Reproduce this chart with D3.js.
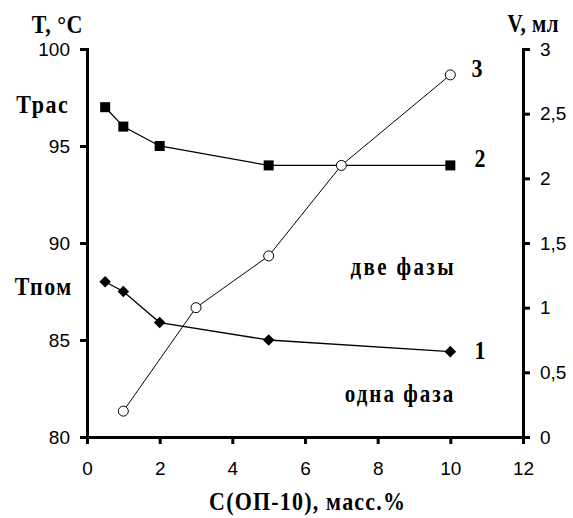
<!DOCTYPE html>
<html>
<head>
<meta charset="utf-8">
<script src="https://cdn.jsdelivr.net/npm/d3@7"></script>
<style>
    body { margin: 0; background: #fff; }
    .axis path, .axis line { stroke: #000; stroke-width: 3; }
    .axis text { font-family: 'Liberation Sans', Arial, sans-serif; font-size: 19px; fill: #000; }
    .lbl { font-family: 'Liberation Serif', 'Times New Roman', serif; font-weight: bold; fill: #000; }
</style>
</head>
<body>
<svg id="chart" width="573" height="518"></svg>
<script>
// концентрация ОП-10, масс.%
let concRas = [0.5, 1, 2, 5, 10]
let tRas = [97, 96, 95, 94, 94]
let concPom = [0.5, 1, 2, 5, 10]
let tPom = [88, 87.5, 85.9, 85, 84.4]
let concV = [1, 3, 5, 7, 10]
let vol = [0.2, 1.0, 1.4, 2.1, 2.8]

let xTicks = [0, 2, 4, 6, 8, 10, 12]
let tTicks = [80, 85, 90, 95, 100]
let vTicks = [0, 0.5, 1, 1.5, 2, 2.5, 3]

function main() {
    let svg = d3.select('#chart'),
        margin = {top: 49, bottom: 81, left: 87, right: 50},
        width = svg.attr('width') - margin.left - margin.right,
        height = svg.attr('height') - margin.top - margin.bottom

    let xScale = d3.scaleLinear().domain([0, 12]).range([margin.left, margin.left + width]),
        tScale = d3.scaleLinear().domain([80, 100]).range([margin.top + height, margin.top]),
        vScale = d3.scaleLinear().domain([0, 3]).range([margin.top + height, margin.top])

    let comma = d => String(d).replace('.', ',')

    svg.append('g')
        .attr('class', 'axis')
        .attr('transform', 'translate(0, ' + (margin.top + height) + ')')
        .call(d3.axisBottom(xScale).tickValues(xTicks).tickSize(7).tickSizeOuter(0).tickPadding(18))

    svg.append('g')
        .attr('class', 'axis')
        .attr('transform', 'translate(' + margin.left + ', 0)')
        .call(d3.axisLeft(tScale).tickValues(tTicks).tickSize(7).tickSizeOuter(0).tickPadding(10))

    svg.append('g')
        .attr('class', 'axis')
        .attr('transform', 'translate(' + (margin.left + width) + ', 0)')
        .call(d3.axisRight(vScale).tickValues(vTicks).tickSize(7).tickSizeOuter(0).tickPadding(10).tickFormat(comma))

    svg.selectAll('.axis path').attr('stroke-linecap', 'square')

    let lineT = d3.line().x(d => xScale(d[0])).y(d => tScale(d[1]))
    let lineV = d3.line().x(d => xScale(d[0])).y(d => vScale(d[1]))

    let ras = concRas.map((c, i) => [c, tRas[i]])
    let pom = concPom.map((c, i) => [c, tPom[i]])
    let vv = concV.map((c, i) => [c, vol[i]])

    svg.append('path').datum(ras).attr('d', lineT)
        .attr('fill', 'none').attr('stroke', '#000').attr('stroke-width', 1.3)
    svg.append('path').datum(pom).attr('d', lineT)
        .attr('fill', 'none').attr('stroke', '#000').attr('stroke-width', 1.3)
    svg.append('path').datum(vv).attr('d', lineV)
        .attr('fill', 'none').attr('stroke', '#000').attr('stroke-width', 1)

    svg.selectAll('.sq')
        .data(ras)
        .enter()
        .append('rect')
        .attr('x', d => xScale(d[0]) - 5)
        .attr('y', d => tScale(d[1]) - 5)
        .attr('width', 10)
        .attr('height', 10)
        .attr('fill', '#000')

    svg.selectAll('.dm')
        .data(pom)
        .enter()
        .append('path')
        .attr('d', d3.symbol().type(d3.symbolDiamond2).size(85))
        .attr('transform', d => 'translate(' + xScale(d[0]) + ',' + tScale(d[1]) + ')')
        .attr('fill', '#000')

    svg.selectAll('.cr')
        .data(vv)
        .enter()
        .append('circle')
        .attr('cx', d => xScale(d[0]))
        .attr('cy', d => vScale(d[1]))
        .attr('r', 5)
        .attr('fill', '#fff')
        .attr('stroke', '#000')
        .attr('stroke-width', 1)

    let labels = [
        {t: 'T, °C', x: 57, y: 33, s: 22, ls: 0.5},
        {t: 'V, мл', x: 533, y: 32, s: 21, ls: 0.5},
        {t: 'Трас', x: 42, y: 113, s: 22, ls: 1.5},
        {t: 'Тпом', x: 43, y: 295, s: 22, ls: 1.5},
        {t: '3', x: 477, y: 77, s: 22, ls: 0},
        {t: '2', x: 480, y: 167, s: 22, ls: 0},
        {t: '1', x: 480, y: 359, s: 22, ls: 0},
        {t: 'две фазы', x: 402, y: 275, s: 21, ls: 2.4},
        {t: 'одна фаза', x: 399, y: 402, s: 21, ls: 2},
        {t: 'C(ОП-10), масс.%', x: 307, y: 510, s: 22, ls: 1.2}
    ]

    svg.selectAll('.lbl')
        .data(labels)
        .enter()
        .append('text')
        .attr('class', 'lbl')
        .attr('text-anchor', 'middle')
        .attr('font-size', d => d.s)
        .attr('letter-spacing', d => d.ls)
        .attr('transform', d => 'translate(' + (d.x + d.ls / 2) + ',' + d.y + ') scale(1,1.15)')
        .text(d => d.t)
}

main()
</script>
</body>
</html>
